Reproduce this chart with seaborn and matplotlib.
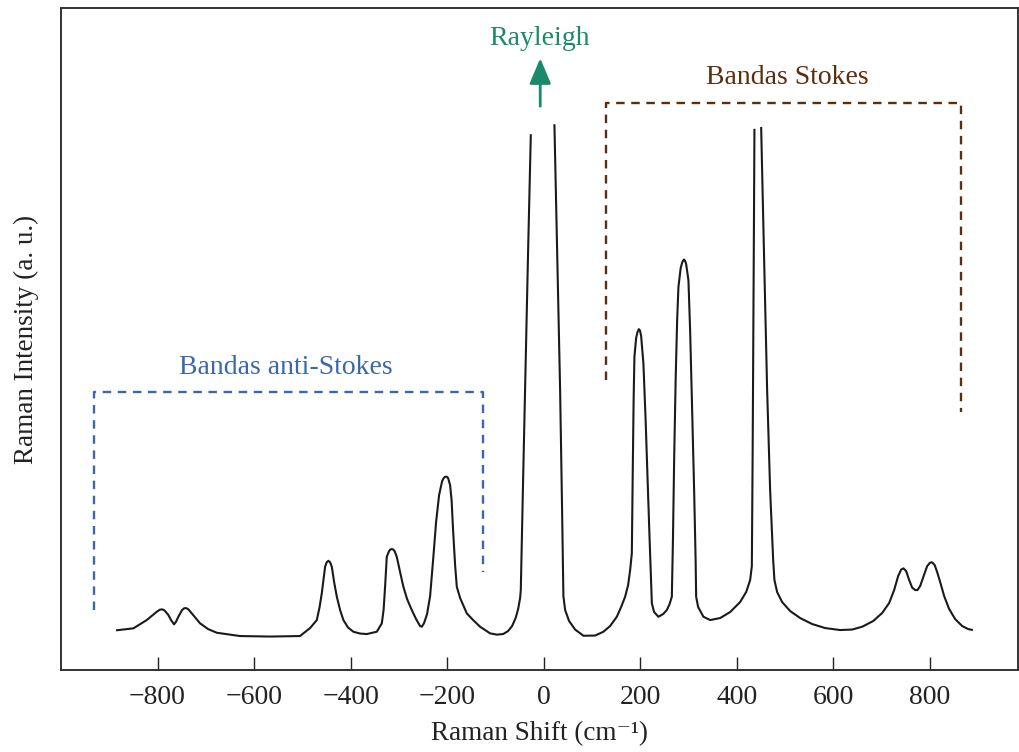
import numpy as np
import pandas as pd
import matplotlib
matplotlib.use("Agg")
import matplotlib.pyplot as plt
import seaborn as sns

# ---- Spectrum data (Raman shift in cm^-1, intensity in a.u.) ----
# Segment 1: anti-Stokes side up to left flank of Rayleigh line (clipped top)
shift_antistokes = [-886.0, -850.1, -822.4, -801.6, -795.5, -791.3, -787.5, -784.4, -777.6, -772.0,
                    -765.8, -761.6, -756.9, -749.2, -745.5, -742.4, -739.0, -735.7, -729.1, -711.9,
                    -695.3, -677.3, -629.0, -566.8, -504.7, -497.8, -483.9, -470.0, -464.2, -459.7,
                    -452.8, -449.5, -446.0, -442.5, -438.9, -434.1, -428.5, -421.7, -414.9, -405.2,
                    -394.2, -380.3, -366.4, -345.7, -335.3, -331.6, -328.5, -325.0, -320.2, -317.5,
                    -314.6, -311.7, -308.8, -304.3, -297.4, -290.6, -282.9, -273.2, -264.3, -256.0,
                    -252.4, -247.7, -241.5, -235.2, -229.0, -222.8, -216.6, -210.3, -207.0, -204.1,
                    -201.0, -197.9, -193.8, -190.7, -187.6, -183.4, -179.9, -173.0, -159.2, -146.1,
                    -131.6, -110.9, -97.0, -83.9, -73.6, -65.3, -58.0, -52.8, -48.7, -47.3,
                    -42.5, -37.3, -32.1, -26.5]
int_antistokes = [39.7, 41.7, 50, 58.3, 60.3, 60.7, 60.2, 59, 55, 50,
                  45.7, 48.5, 53.3, 60, 61.6, 62, 61.6, 60.5, 56.7, 46.7,
                  41, 37.3, 34, 33.5, 34, 36.7, 42, 50, 63, 76.7,
                  103.3, 107.8, 109.3, 107.8, 103.3, 88, 73.3, 60, 50, 42.5,
                  38.3, 36.5, 36, 38.3, 46.7, 60, 83.3, 113.3, 119, 120.6,
                  121, 120.6, 119, 113.3, 98, 83.3, 71, 60, 51, 44,
                  43.3, 47, 56, 74, 110, 148, 175, 189, 192, 193.3,
                  193.5, 192, 185, 170, 140, 105, 83.3, 72, 56.7, 50,
                  43.3, 36.7, 35.4, 36, 39, 44, 52, 61, 72, 80,
                  190, 305, 420, 536]

# Segment 2: right flank of Rayleigh line through left flank of the 440 band (clipped top)
shift_stokes_a = [22.4, 28.0, 34.2, 38.3, 41.0, 44.6, 52.8, 65.3, 82.5, 106.7,
                  123.9, 137.8, 151.7, 160.6, 168.9, 175.1, 179.3, 182.8, 184.5, 186.5,
                  188.2, 191.7, 194.5, 197.3, 199.8, 202.1, 206.8, 211.4, 215.5, 219.7,
                  224.3, 229.0, 237.9, 247.7, 255.3, 261.1, 265.7, 268.0, 270.5, 273.6,
                  276.7, 279.4, 284.0, 287.3, 290.6, 293.0, 295.4, 300.1, 303.6, 307.8,
                  311.9, 315.0, 316.1, 320.2, 331.2, 345.1, 365.8, 386.5, 407.2, 419.7,
                  428.0, 431.5, 433.2, 434.6, 435.9, 436.9]
int_stokes_a = [546, 420, 280, 160, 74, 60, 49, 40.5, 34.3, 34.5,
                38.3, 44, 53.3, 63, 73.3, 85, 100, 116.7, 190, 270,
                313.3, 332, 338, 341, 339.5, 334, 306.7, 250, 190, 130,
                66.7, 58, 53.3, 56, 60, 66, 73.3, 130, 210, 290,
                350, 383.3, 402, 408, 410.7, 409.5, 406, 390, 340, 260,
                180, 110, 73.3, 63, 53.3, 50, 52, 58, 68, 78,
                90, 104, 220, 340, 450, 541.4]

# Segment 3: right flank of the 440 band to the end of the spectrum
shift_stokes_b = [450.8, 457.0, 463.2, 469.4, 475.7, 478.3, 483.9, 494.3, 510.9, 531.6,
                  556.5, 583.4, 614.5, 639.4, 660.1, 682.9, 701.5, 716.0, 726.4, 734.7,
                  740.9, 745.7, 751.3, 757.5, 763.7, 769.9, 774.7, 780.3, 787.5, 794.8,
                  801.0, 805.2, 810.4, 815.5, 821.8, 830.0, 840.4, 852.8, 867.4, 879.8,
                  889.5]
int_stokes_b = [543.2, 410, 280, 180, 110, 90, 78, 68, 59, 52,
                46, 42, 40, 40.5, 43.3, 49, 57, 67, 80, 94,
                100.5, 101.7, 99, 90, 82.5, 80, 80, 84, 94, 104,
                107.5, 107.7, 105, 98, 88, 74, 61, 51, 44, 41,
                40]

x_ticks = [-800, -600, -400, -200, 0, 200, 400, 600, 800]

# Annotation ranges (data units)
antistokes_bracket_x = [-931.6, -125.4]
antistokes_bracket_y = [60, 278, 98]      # left foot, top, right foot
stokes_bracket_x = [129.5, 865.3]
stokes_bracket_y = [290, 567, 258]

# ---- build long-form table ----
df = pd.concat([
    pd.DataFrame({"shift": shift_antistokes, "intensity": int_antistokes, "segment": "a"}),
    pd.DataFrame({"shift": shift_stokes_a, "intensity": int_stokes_a, "segment": "b"}),
    pd.DataFrame({"shift": shift_stokes_b, "intensity": int_stokes_b, "segment": "c"}),
], ignore_index=True)

sns.set_theme(style="white")
plt.rcParams["font.family"] = ["Liberation Serif", "DejaVu Serif"]

fig = plt.figure(figsize=(10.19, 7.52), dpi=100)
ax = fig.add_axes([0.0599, 0.109, 0.9391, 0.880])

sns.lineplot(data=df, x="shift", y="intensity", units="segment", estimator=None,
             sort=False, color="#1a1a1a", linewidth=1.5, ax=ax, legend=False)
for line in ax.lines:
    line.set_solid_joinstyle("round")
    line.set_solid_capstyle("butt")

ax.set_xlim(-1000, 983)
ax.set_ylim(0, 662)
ax.set_xticks(x_ticks)
ax.set_xticklabels([f"{t}".replace("-", "\u2212") for t in x_ticks])
ax.set_yticks([])
ax.tick_params(axis="x", direction="in", length=9.5, width=1.0, color="#222222",
               labelsize=20, pad=11, labelcolor="#222222", bottom=True)
for s in ax.spines.values():
    s.set_color("#333333")
    s.set_linewidth(1.4)

ax.set_xlabel("Raman Shift (cm\u207b\u00b9)", fontsize=19.5, color="#222222", labelpad=8)
ax.set_ylabel("Raman Intensity (a. u.)", fontsize=19.5, color="#222222", labelpad=16)

# ---- annotations ----
blue = "#3b68a8"
brown = "#5a2e0f"
green = "#1b8a6a"
dash = (0, (3.6, 2.8))

ax.plot([antistokes_bracket_x[0], antistokes_bracket_x[0], antistokes_bracket_x[1], antistokes_bracket_x[1]],
        [antistokes_bracket_y[0], antistokes_bracket_y[1], antistokes_bracket_y[1], antistokes_bracket_y[2]],
        color=blue, linewidth=1.7, linestyle=dash)
ax.text(np.mean(antistokes_bracket_x) - 5, 303, "Bandas anti-Stokes", color=blue,
        fontsize=20, ha="center", va="center")

ax.plot([stokes_bracket_x[0], stokes_bracket_x[0], stokes_bracket_x[1], stokes_bracket_x[1]],
        [stokes_bracket_y[0], stokes_bracket_y[1], stokes_bracket_y[1], stokes_bracket_y[2]],
        color=brown, linewidth=1.7, linestyle=dash)
ax.text(np.mean(stokes_bracket_x) + 8, 593, "Bandas Stokes", color=brown,
        fontsize=20, ha="center", va="center")

ax.annotate("", xy=(-7, 612), xytext=(-7, 564),
            arrowprops=dict(arrowstyle="-|>,head_length=1.3,head_width=0.55",
                            color=green, linewidth=2.0, shrinkA=0, shrinkB=0))
ax.text(-9, 632, "Rayleigh", color=green, fontsize=20, ha="center", va="center")

fig.savefig("out.png", dpi=100)
